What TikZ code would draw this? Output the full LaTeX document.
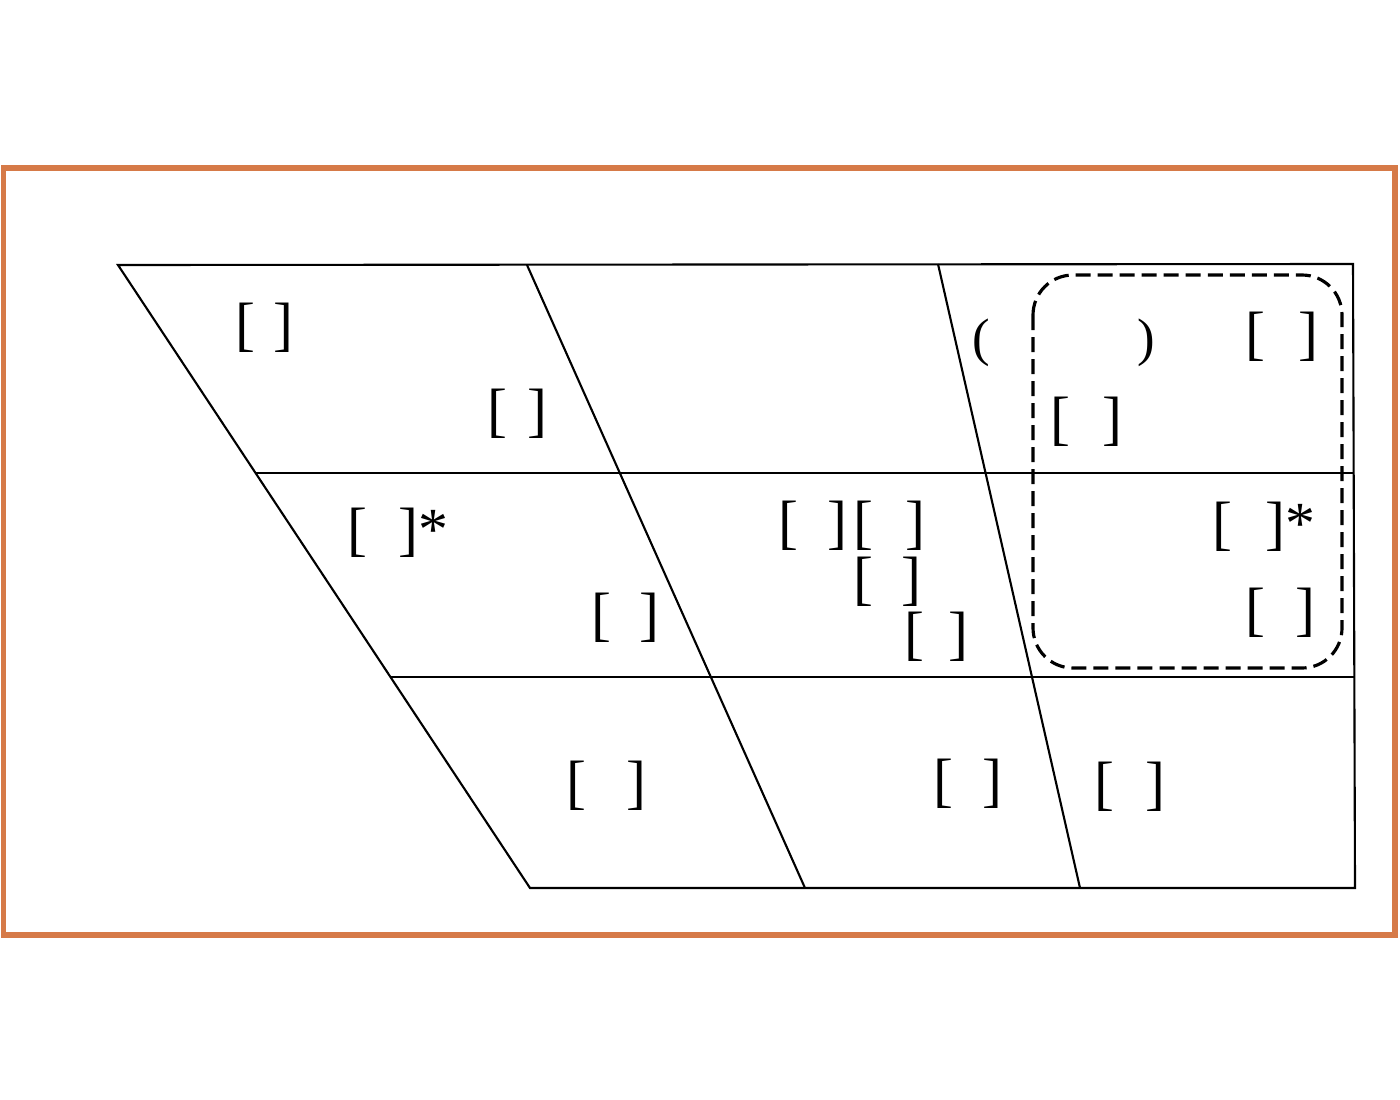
\documentclass[tikz,border=0pt]{standalone}
\usepackage{fontspec}
\setmainfont{Liberation Serif}
\usepackage{xcolor}
\definecolor{framecol}{RGB}{214,122,72}
\tikzset{
	vowel/.style={anchor=west, inner sep=0pt, font=\fontsize{17}{17}\selectfont},
	gridline/.style={black, line width=0.6pt},
	region/.style={black, line width=0.9pt, dash pattern=on 0.15cm off 0.07cm, rounded corners=0.4cm}
}
\newcommand{\slot}[1]{[\hspace{#1}]}

\begin{document}
\begin{tikzpicture}[x=0.01cm, y=-0.01cm]
			\useasboundingbox (0,0) rectangle (1400,1100);
			\draw[framecol, line width=1.7pt]	(3.5,168) rectangle (1395,935);

			\coordinate (tl) at (118,265);
			\coordinate (tr) at (1353,264);
			\coordinate (bl) at (530,888);
			\coordinate (br) at (1355,888);
			\coordinate (ml) at (255,473);
			\coordinate (mr) at (1354,473);
			\coordinate (ll) at (390,677);
			\coordinate (lr) at (1355,677);
			\coordinate (ca) at (527,265);
			\coordinate (cb) at (805,888);
			\coordinate (ba) at (938,264);
			\coordinate (bb) at (1080,888);

			\draw[gridline]	(tl) -- (tr) -- (br) -- (bl) -- cycle;
			\draw[gridline]	(ml) -- (mr);
			\draw[gridline]	(ll) -- (lr);
			\draw[gridline]	(ca) -- (cb);
			\draw[gridline]	(ba) -- (bb);

			\draw[region]	(1033,275) rectangle (1342,668);

			\node[vowel] (i)  at (235,328)  {\slot{0.18cm}};
			\node[vowel] (ih) at (487,414)  {\slot{0.2cm}};
			\node[vowel] (e)  at (347,533)  {\slot{0.31cm}*};
			\node[vowel] (eh) at (591,618)  {\slot{0.28cm}};
			\node[vowel] (c1) at (778,526)  {\slot{0.29cm}};
			\node[vowel] (c2) at (853,526)  {\slot{0.32cm}};
			\node[vowel] (c3) at (853,582)  {\slot{0.28cm}};
			\node[vowel] (c4) at (904,637)  {\slot{0.24cm}};
			\node[vowel] (ae) at (566,786)  {\slot{0.4cm}};
			\node[vowel] (a)  at (933,784)  {\slot{0.29cm}};
			\node[vowel] (aa) at (1094,787) {\slot{0.31cm}};
			\node[vowel, font=\fontsize{15}{15}\selectfont] (par) at (972,343) {(\hspace{1.47cm})};
			\node[vowel] (u)  at (1245,337) {\slot{0.33cm}};
			\node[vowel] (uh) at (1050,422) {\slot{0.32cm}};
			\node[vowel] (o)  at (1212,527) {\slot{0.33cm}*};
			\node[vowel] (oh) at (1245,613) {\slot{0.3cm}};
		\end{tikzpicture}
\end{document}
